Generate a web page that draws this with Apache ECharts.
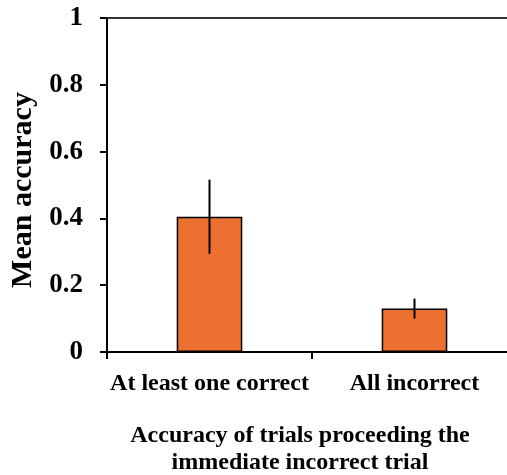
<!DOCTYPE html>
<html><head><meta charset="utf-8">
<script src="https://cdn.jsdelivr.net/npm/echarts@6/dist/echarts.min.js"></script>
<style>html,body{margin:0;padding:0;background:#fff}#c{width:507px;height:475px}</style>
</head><body><div id="c"></div>
<script>
var categories = ['At least one correct', 'All incorrect'];
var meanValues = [0.405, 0.130];
var errorValues = [0.111, 0.030];
var yTicks = [0, 0.2, 0.4, 0.6, 0.8, 1];

var FONT = '"Liberation Serif", "Times New Roman", serif';
var chart = echarts.init(document.getElementById('c'));
var errData = categories.map(function (c, i) { return [i, meanValues[i] - errorValues[i], meanValues[i] + errorValues[i]]; });

chart.setOption({
  animation: false,
  grid: { left: 107, top: 18, width: 410, height: 334, containLabel: false, outerBoundsMode: 'none' },
  xAxis: [{
    type: 'category', data: categories, position: 'bottom',
    axisLine: { lineStyle: { color: '#000', width: 2 } },
    axisTick: { show: true, length: 7, lineStyle: { color: '#000', width: 2 } },
    axisLabel: { interval: 0, hideOverlap: false, color: '#000', fontFamily: FONT, fontWeight: 'bold', fontSize: 24, margin: 20 },
    name: 'Accuracy of trials proceeding the\nimmediate incorrect trial',
    nameLocation: 'middle', nameGap: 70,
    nameTextStyle: { color: '#000', fontFamily: FONT, fontWeight: 'bold', fontSize: 24, lineHeight: 27, padding: [0, 24, 0, 0] }
  }, {
    type: 'category', data: categories, position: 'top',
    axisLine: { show: true, lineStyle: { color: '#333', width: 2 } },
    axisTick: { show: false }, axisLabel: { show: false }
  }],
  yAxis: {
    type: 'value', min: yTicks[0], max: yTicks[yTicks.length - 1], interval: 0.2,
    axisLine: { show: true, lineStyle: { color: '#000', width: 2 } },
    axisTick: { show: true, length: 7, lineStyle: { color: '#000', width: 2 } },
    splitLine: { show: false },
    axisLabel: { color: '#000', fontFamily: FONT, fontWeight: 'bold', fontSize: 27, margin: 24 },
    name: 'Mean accuracy', nameLocation: 'middle', nameGap: 69,
    nameTextStyle: { color: '#000', fontFamily: FONT, fontWeight: 'bold', fontSize: 30, padding: [0, 10, 0, 0] }
  },
  series: [{
    type: 'bar', data: meanValues, barWidth: '32%',
    itemStyle: { color: '#EC7130', borderColor: '#000', borderWidth: 1.5 }
  }, {
    type: 'custom', data: errData, z: 10,
    renderItem: function (params, api) {
      var lo = api.coord([api.value(0), api.value(1)]);
      var hi = api.coord([api.value(0), api.value(2)]);
      return { type: 'line', shape: { x1: lo[0], y1: lo[1], x2: hi[0], y2: hi[1] }, style: { stroke: '#000', lineWidth: 2 } };
    }
  }]
});
</script></body></html>
